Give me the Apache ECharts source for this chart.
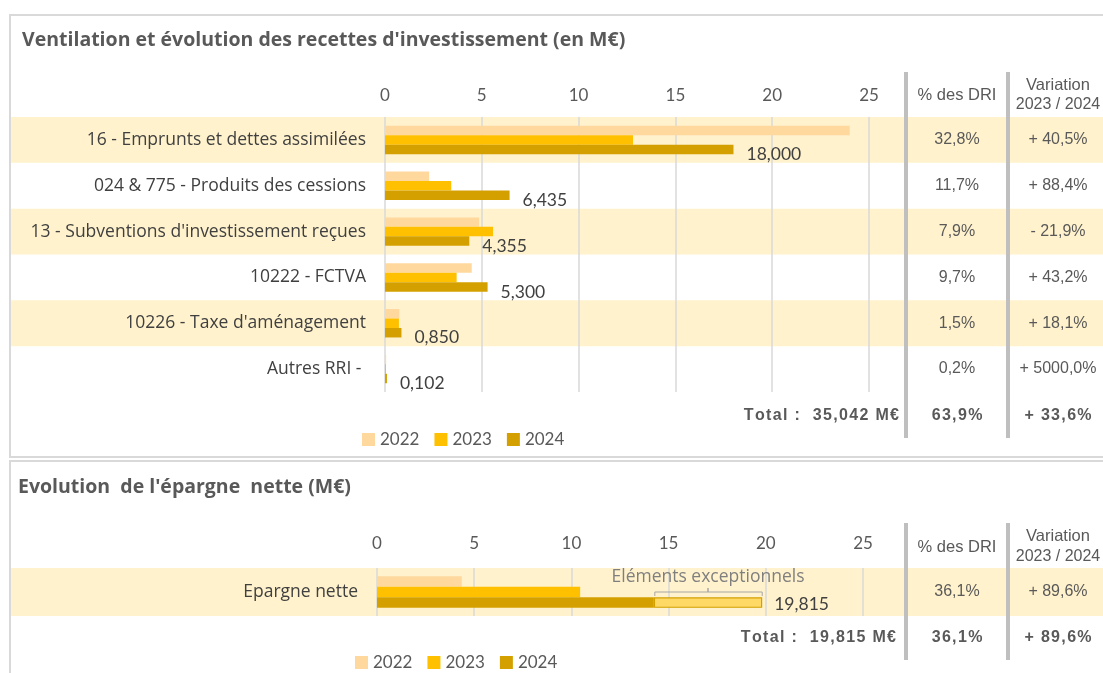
<!DOCTYPE html>
<html>
<head>
<meta charset="utf-8">
<script src="https://cdn.jsdelivr.net/npm/echarts@6/dist/echarts.min.js"></script>
<style>
  html, body { margin: 0; padding: 0; background: #ffffff; }
  #chart { width: 1103px; height: 673px; }
</style>
</head>
<body>
<div id="chart"></div>
<script>
// ---- Recettes d'investissement (M€) ----
const categories = [
  '16 - Emprunts et dettes assimilées',
  '024 & 775 - Produits des cessions',
  "13 - Subventions d'investissement reçues",
  '10222 - FCTVA',
  "10226 - Taxe d'aménagement",
  'Autres RRI - '
];
const values2022 = [24.0, 2.28, 4.86, 4.48, 0.74, 0.06];
const values2023 = [12.81, 3.42, 5.58, 3.70, 0.72, 0.002];
const values2024 = [18.000, 6.435, 4.355, 5.300, 0.850, 0.102];
const pctDRI = ['32,8%', '11,7%', '7,9%', '9,7%', '1,5%', '0,2%'];
const variation = ['+ 40,5%', '+ 88,4%', '- 21,9%', '+ 43,2%', '+ 18,1%', '+ 5000,0%'];
const totalLabel = 'Total :  35,042 M€';
const totalPct = '63,9%';
const totalVar = '+ 33,6%';

// ---- Epargne nette (M€) ----
const epCategories = ['Epargne nette'];
const ep2022 = [4.36];
const ep2023 = [10.45];
const ep2024 = [19.815];
const epExceptional = [5.575];   // part "Eléments exceptionnels" included in 2024
const epPct = ['36,1%'];
const epVar = ['+ 89,6%'];
const epTotalLabel = 'Total :  19,815 M€';
const epTotalPct = '36,1%';
const epTotalVar = '+ 89,6%';

// ---- axis ----
const axisMin = 0, axisMax = 25, axisInterval = 5;
const years = ['2022', '2023', '2024'];

// ---- styling ----
const C2022 = '#FFD89E', C2023 = '#FFC000', C2024 = '#D4A000', CEXC = '#FFD966';
const BAND = '#FFF2CC', GRIDLINE = '#D9D9D9', DIVIDER = '#BFBFBF', FRAME = '#D9D9D9';
const TXT = '#595959', TXT_DARK = '#404040';
const SANS = 'Lato, "Noto Sans", sans-serif';
const OPEN = '"Open Sans", Lato, sans-serif';
const ARIAL = '"Liberation Sans", Arial, sans-serif';

const fmt = v => v.toFixed(3).replace('.', ',');
const spread = s => s.split('').join('\u200A');

const TOP = { left: 385, top: 117, width: 484, height: 275 };
const BOT = { left: 377, top: 568, width: 486, height: 48 };
const COL1 = 957, COL2 = 1058;

function valueAxis(gridIndex, margin) {
  return {
    type: 'value', gridIndex, position: 'top',
    min: axisMin, max: axisMax, interval: axisInterval,
    axisLine: { show: false }, axisTick: { show: false },
    axisLabel: { margin, fontFamily: SANS, fontSize: 17, color: TXT },
    splitLine: { lineStyle: { color: GRIDLINE, width: 1.5 } }
  };
}
function catAxis(gridIndex, data) {
  return {
    type: 'category', gridIndex, data, inverse: true,
    axisLine: { show: false }, axisTick: { show: false },
    axisLabel: { margin: 19, fontFamily: OPEN, fontSize: 17.5, color: TXT_DARK }
  };
}
const valueLabel = (dist, offY) => ({
  show: true, position: 'right', distance: dist, offset: [0, offY],
  fontFamily: SANS, fontSize: 17.5, color: TXT_DARK,
  formatter: p => fmt(p.value)
});

const chart = echarts.init(document.getElementById('chart'));

chart.setOption({
  animation: false,
  backgroundColor: '#ffffff',
  grid: [
    Object.assign({ containLabel: false }, TOP),
    Object.assign({ containLabel: false }, BOT)
  ],
  xAxis: [valueAxis(0, 13), valueAxis(1, 16)],
  yAxis: [catAxis(0, categories), catAxis(1, epCategories)],
  legend: [
    { data: years, left: 357, top: 426, icon: 'rect', itemWidth: 13, itemHeight: 13, itemGap: 15,
      textStyle: { fontFamily: SANS, fontSize: 17, color: TXT } },
    { data: years, left: 350, top: 649, icon: 'rect', itemWidth: 13, itemHeight: 13, itemGap: 15,
      textStyle: { fontFamily: SANS, fontSize: 17, color: TXT } }
  ],
  series: [
    { name: '2022', type: 'bar', xAxisIndex: 0, yAxisIndex: 0, data: values2022,
      itemStyle: { color: C2022 }, barGap: '0%', barCategoryGap: '38%', barMinHeight: 1 },
    { name: '2023', type: 'bar', xAxisIndex: 0, yAxisIndex: 0, data: values2023,
      itemStyle: { color: C2023 }, barMinHeight: 1 },
    { name: '2024', type: 'bar', xAxisIndex: 0, yAxisIndex: 0, data: values2024,
      itemStyle: { color: C2024 }, label: valueLabel(13, 5), barMinHeight: 1 },

    { name: '2022', type: 'bar', xAxisIndex: 1, yAxisIndex: 1, data: ep2022,
      itemStyle: { color: C2022 }, barGap: '0%', barCategoryGap: '34%' },
    { name: '2023', type: 'bar', xAxisIndex: 1, yAxisIndex: 1, data: ep2023,
      itemStyle: { color: C2023 } },
    { name: '2024', type: 'bar', xAxisIndex: 1, yAxisIndex: 1, stack: 'ep',
      data: ep2024.map((v, i) => +(v - epExceptional[i]).toFixed(3)),
      itemStyle: { color: C2024 } },
    { name: 'Eléments exceptionnels', type: 'bar', xAxisIndex: 1, yAxisIndex: 1, stack: 'ep',
      data: epExceptional,
      itemStyle: { color: CEXC, borderColor: C2024, borderWidth: 1.2 },
      label: Object.assign(valueLabel(12, 2), { formatter: p => fmt(ep2024[p.dataIndex]) }) }
  ]
});

// ---- frames, row bands, side columns, annotations ----
const g = [];
const text = (t, x, y, o = {}) => g.push({
  type: 'text', z: 50,
  style: Object.assign({ text: t, x, y, fill: TXT, fontFamily: ARIAL, fontSize: 16,
    textAlign: 'center', textVerticalAlign: 'middle' }, o)
});
const rect = (x, y, w, h, style, z) => g.push({ type: 'rect', z, shape: { x, y, width: w, height: h }, style });

// panel frames
rect(10, 15, 1110, 442, { fill: 'none', stroke: FRAME, lineWidth: 2 }, 1);
rect(10, 461, 1110, 230, { fill: 'none', stroke: FRAME, lineWidth: 2 }, 1);

// titles
text("Ventilation et évolution des recettes d'investissement (en M€)", 22, 40,
  { textAlign: 'left', fontFamily: OPEN, fontWeight: 'bold', fontSize: 19.5 });
text("Evolution  de l'épargne  nette (M€)", 18, 487,
  { textAlign: 'left', fontFamily: OPEN, fontWeight: 'bold', fontSize: 19.5 });

// alternate row bands (top panel)
const rowH = TOP.height / categories.length;
categories.forEach((c, i) => {
  const cy = chart.convertToPixel({ yAxisIndex: 0 }, i);
  if (i % 2 === 0) rect(11, cy - rowH / 2, 1092, rowH, { fill: BAND }, -10);
  text(pctDRI[i], COL1, cy);
  text(variation[i], COL2, cy);
});
// band of the epargne row
epCategories.forEach((c, i) => {
  const cy = chart.convertToPixel({ yAxisIndex: 1 }, i);
  rect(11, cy - BOT.height / 2, 1092, BOT.height, { fill: BAND }, -10);
  text(epPct[i], COL1, cy);
  text(epVar[i], COL2, cy);
});

// column dividers
[906, 1008].forEach(x => {
  rect(x - 2, 72, 4, 366, { fill: DIVIDER }, 40);
  rect(x - 2, 523, 4, 137, { fill: DIVIDER }, 40);
});

// column headers
[[95, 85, 105], [547, 536, 557]].forEach(([yp, yv1, yv2]) => {
  text('% des DRI', COL1, yp, { fontSize: 16.5 });
  text('Variation', COL2, yv1, { fontSize: 16.5 });
  text('2023 / 2024', COL2, yv2, { fontSize: 16 });
});

// totals
const bold = { fontWeight: 'bold', fontSize: 16 };
text(spread(totalLabel), 899, 416, Object.assign({ textAlign: 'right' }, bold));
text(spread(totalPct), COL1, 416, bold);
text(spread(totalVar), COL2, 416, bold);
text(spread(epTotalLabel), 896, 638, Object.assign({ textAlign: 'right' }, bold));
text(spread(epTotalPct), COL1, 638, bold);
text(spread(epTotalVar), COL2, 638, bold);

// brace over the exceptional part of 2024
const xa = chart.convertToPixel({ xAxisIndex: 1 }, ep2024[0] - epExceptional[0]);
const xb = chart.convertToPixel({ xAxisIndex: 1 }, ep2024[0]);
const xm = (xa + xb) / 2;
g.push({ type: 'polyline', z: 45, shape: { points: [[xa + 1, 596], [xa + 1, 592], [xm, 592], [xm, 588], [xm, 592], [xb, 592], [xb, 596]] },
  style: { stroke: '#A6A6A6', lineWidth: 1, fill: 'none' } });
text('Eléments exceptionnels', 708, 577, { fontFamily: OPEN, fontSize: 17.5, fill: '#7F7F7F' });

chart.setOption({ graphic: g });
</script>
</body>
</html>
